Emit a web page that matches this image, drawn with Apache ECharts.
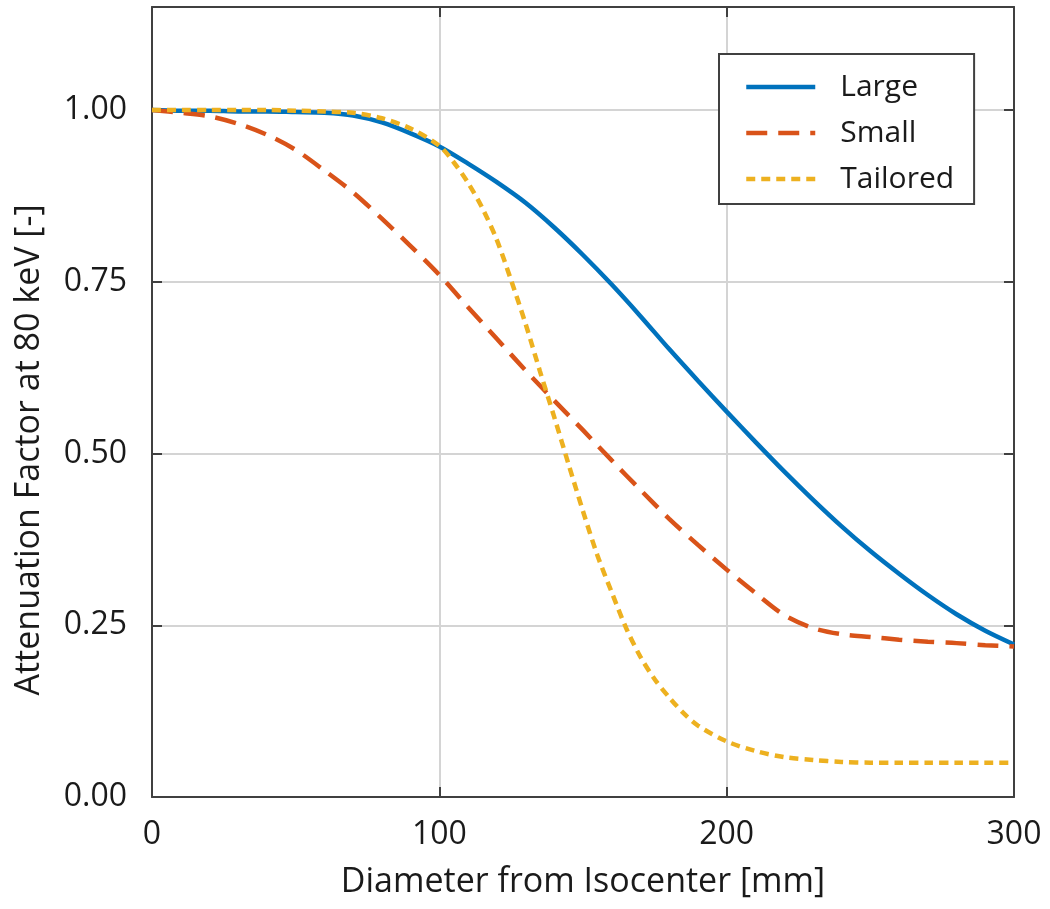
<!DOCTYPE html>
<html>
<head>
<meta charset="utf-8">
<script src="https://cdn.jsdelivr.net/npm/echarts@6/dist/echarts.min.js"></script>
<style>
html,body{margin:0;padding:0;background:#fff;}
#chart{width:1050px;height:909px;}
</style>
</head>
<body>
<div id="chart"></div>
<script>
// ---- data ----
const xCoarse = [0,10,20,30,40,50,60,70,80,90,100,110,120,130,140,150,160,170,180,190,200,210,220,230,240,250,260,270,280,290,300];
const largeVals = [1.000,0.999,0.999,0.998,0.998,0.997,0.996,0.992,0.982,0.966,0.947,0.922,0.895,0.865,0.829,0.789,0.746,0.700,0.652,0.606,0.561,0.517,0.474,0.433,0.394,0.358,0.325,0.294,0.266,0.242,0.222];
const smallVals = [1.000,0.996,0.991,0.980,0.964,0.942,0.912,0.880,0.842,0.802,0.760,0.713,0.667,0.621,0.577,0.534,0.490,0.447,0.405,0.367,0.331,0.297,0.265,0.246,0.237,0.233,0.229,0.226,0.224,0.221,0.219];
const xTailored = [0,10,20,30,40,50,60,70,80,90,100,105,110,115,120,125,130,135,140,145,150,155,160,165,170,175,180,185,190,200,210,220,230,240,250,260,270,280,290,300];
const tailoredVals = [1.000,1.000,1.000,1.000,1.000,0.999,0.998,0.996,0.988,0.973,0.948,0.924,0.894,0.857,0.811,0.752,0.689,0.620,0.553,0.484,0.416,0.352,0.298,0.246,0.204,0.171,0.145,0.122,0.104,0.081,0.067,0.058,0.054,0.051,0.050,0.050,0.050,0.050,0.050,0.050];
const seriesNames = ['Large','Small','Tailored'];
const xTicks = [0,100,200,300];
const yTicks = [0,0.25,0.5,0.75,1.0];
const xTitle = 'Diameter from Isocenter [mm]';
const yTitle = 'Attenuation Factor at 80 keV [-]';

const pairs = (xs, ys) => xs.map((x, i) => [x, ys[i]]);
const FONT = 'Open Sans';
const frameColor = '#404040';
const textColor = '#1a1a1a';
const LW = 4.5;

const chart = echarts.init(document.getElementById('chart'), null, {renderer: 'canvas'});

const baseX = {
  type: 'value', min: xTicks[0], max: xTicks[xTicks.length-1], interval: 100,
  axisLine: {show: true, onZero: false, lineStyle: {color: frameColor, width: 2}},
  axisTick: {show: true, inside: true, length: 10, lineStyle: {color: frameColor, width: 2}},
};
const baseY = {
  type: 'value', min: 0, max: 1.15, interval: 0.25,
  axisLine: {show: true, onZero: false, lineStyle: {color: frameColor, width: 2}},
  axisTick: {show: true, inside: true, length: 10, lineStyle: {color: frameColor, width: 2}},
};

const option = {
  backgroundColor: '#ffffff',
  animation: false,
  textStyle: {fontFamily: FONT},
  grid: {left: 152, right: 36, top: 7, bottom: 112, containLabel: false},
  legend: {
    left: 719, top: 54,
    orient: 'vertical',
    backgroundColor: '#ffffff',
    borderColor: frameColor, borderWidth: 2, borderRadius: 0,
    padding: [18, 20, 10, 25],
    itemWidth: 69, itemHeight: 30, itemGap: 16,
    itemStyle: {opacity: 0},
    lineStyle: {width: LW},
    textStyle: {fontFamily: FONT, fontSize: 30, color: textColor, padding: [0,0,0,20]},
    data: seriesNames
  },
  xAxis: [
    Object.assign({}, baseX, {
      position: 'bottom',
      name: xTitle, nameLocation: 'middle', nameGap: 68,
      nameTextStyle: {fontFamily: FONT, fontSize: 34, color: textColor},
      axisLabel: {fontFamily: FONT, fontSize: 32, color: textColor, margin: 22,
        formatter: v => xTicks.indexOf(v) >= 0 ? String(v) : ''},
      splitLine: {show: true, lineStyle: {color: '#d4d4d4', width: 2}}
    }),
    Object.assign({}, baseX, {
      position: 'top',
      axisLabel: {show: false},
      splitLine: {show: false}
    })
  ],
  yAxis: [
    Object.assign({}, baseY, {
      position: 'left',
      name: yTitle, nameLocation: 'middle', nameGap: 106, nameRotate: 90,
      nameTextStyle: {fontFamily: FONT, fontSize: 34, color: textColor, padding: [0, 96, 0, 0]},
      axisLabel: {fontFamily: FONT, fontSize: 32, color: textColor, margin: 25,
        formatter: v => {
          const ok = yTicks.some(t => Math.abs(t - v) < 1e-9);
          return ok ? v.toFixed(2) : '';
        }},
      splitLine: {show: true, lineStyle: {color: '#d4d4d4', width: 2}}
    }),
    Object.assign({}, baseY, {
      position: 'right',
      axisLabel: {show: false},
      splitLine: {show: false}
    })
  ],
  series: [
    {
      name: seriesNames[0], type: 'line', xAxisIndex: 0, yAxisIndex: 0,
      data: pairs(xCoarse, largeVals),
      smooth: 0.3, showSymbol: false, symbol: 'none',
      lineStyle: {color: '#0072BD', width: LW, type: 'solid'},
      itemStyle: {color: '#0072BD'}, z: 3
    },
    {
      name: seriesNames[1], type: 'line', xAxisIndex: 0, yAxisIndex: 0,
      data: pairs(xCoarse, smallVals),
      smooth: 0.3, showSymbol: false, symbol: 'none',
      lineStyle: {color: '#D95319', width: LW, type: [21, 11]},
      itemStyle: {color: '#D95319'}, z: 4
    },
    {
      name: seriesNames[2], type: 'line', xAxisIndex: 0, yAxisIndex: 0,
      data: pairs(xTailored, tailoredVals),
      smooth: 0.3, showSymbol: false, symbol: 'none',
      lineStyle: {color: '#EDB120', width: LW, type: [9, 6]},
      itemStyle: {color: '#EDB120'}, z: 5
    }
  ]
};
chart.setOption(option);
</script>
</body>
</html>
